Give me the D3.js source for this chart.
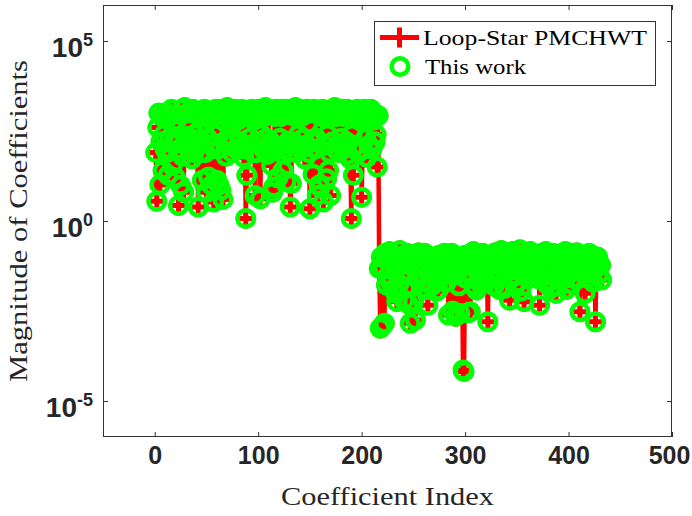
<!DOCTYPE html>
<html><head><meta charset="utf-8">
<script src="https://cdn.jsdelivr.net/npm/d3@7"></script>
<style>body{margin:0;background:#fff;}</style>
</head><body>
<svg id="chart" width="692" height="516"></svg>
<script>
// ---- data (magnitudes given as log10 exponents on the log axis) ----
const xTicks = [0, 100, 200, 300, 400, 500];
const yTickExponents = [-5, 0, 5];
const seriesNames = ["Loop-Star PMCHWT", "This work"];
const xLabel = "Coefficient Index";
const yLabel = "Magnitude of Coefficients";

// coefficients 1..216
const upperBandLog10 = [
 1.9, 0.55, 2.6, 3.0, 1.01, 2.2, 2.9, 1.4, 2.4, 2.0,
 3.0, 1.9, 1.27, 2.9, 2.3, 3.1, 1.54, 2.14, 2.6, 1.2,
 2.8, 2.3, 0.43, 2.0, 0.99, 3.1, 1.8, 0.8, 3.15, 2.2,
 2.8, 3.0, 2.0, 2.3, 2.6, 1.73, 3.1, 1.9, 2.4, 3.0,
 2.2, 0.39, 2.5, 3.0, 1.9, 1.13, 2.9, 3.1, 1.9, 0.8,
 2.3, 1.22, 3.0, 2.1, 0.99, 2.9, 0.53, 2.4, 3.1, 1.13,
 2.0, 1.0, 2.5, 0.85, 3.1, 0.6, 2.2, 3.0, 1.8, 3.15,
 2.9, 2.1, 3.1, 2.7, 1.9, 2.3, 2.9, 3.1, 2.0, 2.8,
 3.0, 2.2, 2.9, 3.1, 2.0, 1.77, 2.5, 0.07, 1.27, 2.1,
 3.0, 2.3, 2.9, 3.1, 1.9, 2.8, 0.71, 3.0, 1.9, 2.2,
 3.1, 0.62, 2.4, 3.0, 2.0, 2.9, 3.15, 2.3, 1.85, 3.0,
 2.1, 2.2, 1.54, 0.8, 0.94, 2.9, 3.1, 2.0, 1.2, 3.0,
 2.3, 2.9, 3.1, 1.4, 3.0, 2.0, 1.1, 3.1, 2.2, 1.9,
 0.39, 1.04, 3.0, 2.2, 2.9, 3.15, 1.9, 3.0, 2.4, 3.1,
 2.0, 2.9, 3.0, 2.3, 1.73, 2.1, 3.1, 2.7, 1.9, 0.34,
 3.0, 2.2, 1.3, 3.1, 2.0, 2.3, 0.71, 3.0, 1.0, 0.94,
 2.9, 3.1, 0.53, 2.1, 3.0, 1.17, 2.4, 1.4, 1.9, 0.71,
 2.9, 2.2, 3.0, 3.15, 2.0, 2.9, 3.1, 1.9, 3.0, 2.3,
 3.1, 2.0, 2.9, 3.0, 2.2, 3.1, 1.85, 2.9, 1.73, 0.07,
 2.4, 1.27, 3.0, 2.1, 2.9, 3.1, 1.9, 2.8, 3.0, 0.66,
 2.0, 2.9, 3.1, 2.3, 1.77, 3.0, 2.1, 2.9, 3.1, 2.0,
 2.8, 3.0, 2.2, 2.4, 1.5, 2.93
];
// coefficients 217..432
const lowerBandLog10 = [
 -1.32, -2.98, -1.0, -2.92, -1.3, -2.84, -0.9, -1.78, -1.1, -1.5,
 -0.85, -1.7, -1.6, -0.95, -1.9, -1.1, -2.0, -2.24, -1.0, -1.75,
 -0.82, -1.15, -1.5, -1.0, -2.2, -1.87, -1.2, -0.9, -2.3, -1.4,
 -2.84, -1.1, -0.95, -2.24, -1.3, -2.75, -1.0, -1.6, -0.88, -1.2,
 -1.45, -1.0, -1.7, -1.85, -0.9, -1.3, -1.9, -2.34, -1.1, -1.5,
 -1.0, -1.8, -1.3, -1.6, -1.05, -1.95, -1.2, -1.92, -0.95, -1.3,
 -1.55, -1.0, -1.2, -0.9, -1.4, -1.7, -1.1, -2.61, -1.0, -1.35,
 -0.9, -2.5, -1.2, -1.0, -2.65, -1.5, -1.1, -1.8, -2.57, -1.3,
 -1.05, -4.14, -4.18, -0.95, -1.6, -1.1, -2.55, -1.25, -2.52, -0.9,
 -1.2, -0.85, -1.8, -1.0, -1.92, -1.3, -0.95, -1.6, -1.75, -1.4,
 -0.9, -1.25, -1.7, -1.0, -1.3, -2.8, -1.1, -0.95, -1.5, -1.2,
 -1.0, -1.8, -0.88, -1.15, -1.6, -0.95, -1.9, -1.45, -0.82, -1.1,
 -1.3, -1.87, -1.0, -0.9, -1.4, -1.15, -2.2, -1.0, -1.25, -0.85,
 -1.5, -1.8, -0.95, -1.3, -1.7, -1.0, -0.8, -1.95, -1.45, -1.0,
 -2.24, -1.15, -0.9, -1.3, -1.05, -1.6, -0.85, -1.2, -1.0, -1.4,
 -1.1, -0.95, -1.3, -1.6, -1.0, -2.34, -1.2, -0.9, -1.45, -1.05,
 -1.3, -0.85, -1.75, -1.5, -1.0, -1.25, -1.87, -1.1, -0.9, -1.8,
 -1.0, -2.01, -1.2, -0.95, -1.4, -1.1, -1.6, -0.9, -1.3, -1.05,
 -0.85, -1.9, -1.5, -1.0, -1.3, -0.95, -1.75, -1.6, -0.9, -1.25,
 -1.0, -0.88, -1.4, -1.2, -2.52, -1.1, -0.95, -1.35, -1.0, -2.01,
 -1.3, -1.0, -1.6, -0.9, -1.2, -1.45, -1.0, -1.7, -1.1, -2.8,
 -1.3, -1.0, -1.5, -1.2, -1.23, -1.64
];
const loopStarLog10 = upperBandLog10.concat(lowerBandLog10);
// "This work" coincides with Loop-Star PMCHWT everywhere in the picture
const thisWorkLog10 = loopStarLog10;

// ---- drawing ----
const W = 692, H = 516;
const L = 103, R = 672, T = 5, B = 437;
const svg = d3.select("#chart");
svg.append("rect").attr("width", W).attr("height", H).attr("fill", "#fff");

const x = d3.scaleLinear().domain([-50, 500]).range([L, R]);
const y = d3.scaleLog().domain([1e-6, 1e6]).range([B, T]);

const toPts = arr => arr.map((e, k) => ({ i: k + 1, v: Math.pow(10, e) }));
const redPts = toPts(loopStarLog10);
const greenPts = toPts(thisWorkLog10);

const axisColor = "#333";
const tickFont = "'Liberation Sans', Arial, Helvetica, sans-serif";
const serif = "'Liberation Serif', 'Times New Roman', serif";

// red line
svg.append("path")
  .datum(redPts)
  .attr("fill", "none")
  .attr("stroke", "#ff0000")
  .attr("stroke-width", 4.5)
  .attr("stroke-linejoin", "round")
  .attr("d", d3.line().x(d => x(d.i)).y(d => y(d.v)));

// red + markers
svg.append("g").selectAll("path").data(redPts).join("path")
  .attr("transform", d => `translate(${x(d.i)},${y(d.v)})`)
  .attr("d", "M-10,0H10M0,-10V10")
  .attr("stroke", "#ff0000").attr("stroke-width", 5).attr("fill", "none");

// green circles
svg.append("g").selectAll("circle").data(greenPts).join("circle")
  .attr("cx", d => x(d.i)).attr("cy", d => y(d.v)).attr("r", 8.3)
  .attr("fill", "none").attr("stroke", "#00ff00").attr("stroke-width", 4.5);

// axes
const xAxis = svg.append("g").attr("transform", `translate(0,${B})`)
  .call(d3.axisBottom(x).tickValues(xTicks).tickSizeInner(-5).tickSizeOuter(0).tickPadding(9));
xAxis.selectAll("text").attr("font-family", tickFont).attr("font-weight", "bold")
  .attr("font-size", 25).attr("fill", "#262626");
// keep the last label inside the window, as in the reference
xAxis.selectAll(".tick").filter(d => d === 500).select("text").attr("x", -3);
const xAxisTop = svg.append("g").attr("transform", `translate(0,${T})`)
  .call(d3.axisTop(x).tickValues(xTicks).tickSizeInner(-5).tickSizeOuter(0).tickFormat(""));

const yTickVals = yTickExponents.map(e => Math.pow(10, e));
const yAxis = svg.append("g").attr("transform", `translate(${L},0)`)
  .call(d3.axisLeft(y).tickValues(yTickVals).tickSizeInner(-5).tickSizeOuter(0).tickFormat(""));
const yAxisR = svg.append("g").attr("transform", `translate(${R},0)`)
  .call(d3.axisRight(y).tickValues(yTickVals).tickSizeInner(-5).tickSizeOuter(0).tickFormat(""));

[xAxis, xAxisTop, yAxis, yAxisR].forEach(g => {
  g.select(".domain").remove();
  g.selectAll("line").attr("stroke", axisColor);
});

// y tick labels 10^e
const ylab = svg.append("g");
yTickExponents.forEach(e => {
  const t = ylab.append("text")
    .attr("x", 93).attr("y", y(Math.pow(10, e)) + 16)
    .attr("text-anchor", "end")
    .attr("font-family", tickFont).attr("font-weight", "bold")
    .attr("font-size", 28).attr("fill", "#262626");
  t.append("tspan").text("10");
  t.append("tspan").attr("dy", -11).attr("font-size", 18).text(String(e));
});

// box
svg.append("rect").attr("x", L + 0.5).attr("y", T + 0.5)
  .attr("width", R - L - 1).attr("height", B - T - 1)
  .attr("fill", "none").attr("stroke", axisColor).attr("stroke-width", 1);

// axis labels
svg.append("text").attr("x", (L + R) / 2).attr("y", 505)
  .attr("text-anchor", "middle").attr("font-family", serif).attr("font-size", 25)
  .attr("fill", "#262626").attr("textLength", 213).attr("lengthAdjust", "spacingAndGlyphs")
  .text(xLabel);
svg.append("text").attr("transform", `translate(27,${(T + B) / 2}) rotate(-90)`)
  .attr("text-anchor", "middle").attr("font-family", serif).attr("font-size", 25)
  .attr("fill", "#262626").attr("textLength", 322).attr("lengthAdjust", "spacingAndGlyphs")
  .text(yLabel);

// legend
const lg = svg.append("g");
lg.append("rect").attr("x", 374.5).attr("y", 21.5).attr("width", 281).attr("height", 64)
  .attr("fill", "#fff").attr("stroke", axisColor).attr("stroke-width", 1);
lg.append("line").attr("x1", 380).attr("x2", 419).attr("y1", 37.5).attr("y2", 37.5)
  .attr("stroke", "#ff0000").attr("stroke-width", 5);
lg.append("path").attr("transform", "translate(399.5,37.5)").attr("d", "M-10,0H10M0,-10V10")
  .attr("stroke", "#ff0000").attr("stroke-width", 5).attr("fill", "none");
lg.append("circle").attr("cx", 400).attr("cy", 66.5).attr("r", 8.3)
  .attr("fill", "none").attr("stroke", "#00ff00").attr("stroke-width", 4.5);
lg.append("text").attr("x", 423).attr("y", 44.5).attr("font-family", serif).attr("font-size", 22)
  .attr("fill", "#000").attr("textLength", 224).attr("lengthAdjust", "spacingAndGlyphs")
  .text(seriesNames[0]);
lg.append("text").attr("x", 425).attr("y", 73.5).attr("font-family", serif).attr("font-size", 22)
  .attr("fill", "#000").attr("textLength", 101).attr("lengthAdjust", "spacingAndGlyphs")
  .text(seriesNames[1]);
</script>
</body></html>
